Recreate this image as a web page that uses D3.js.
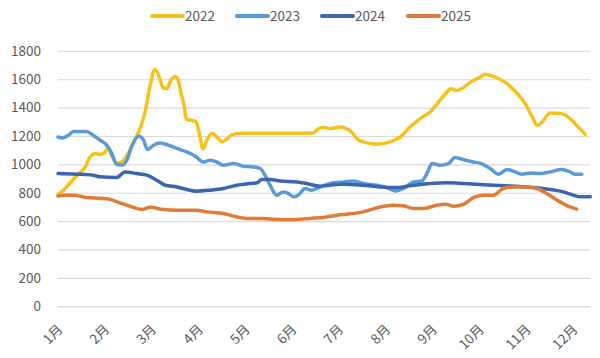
<!DOCTYPE html>
<html>
<head>
<meta charset="utf-8">
<script src="https://cdn.jsdelivr.net/npm/d3@7/dist/d3.min.js"></script>
<style>
  html, body { margin: 0; padding: 0; background: #fff; }
  svg { display: block; }
  text { font-family: "Noto Sans CJK SC", "Noto Sans", sans-serif; fill: #595959; }
</style>
</head>
<body>
<svg id="chart" width="600" height="358"></svg>
<script>
// ---- data (x = month position, 0 = 1月) ----
const months = ["1月","2月","3月","4月","5月","6月","7月","8月","9月","10月","11月","12月"];
const yTicks = [0, 200, 400, 600, 800, 1000, 1200, 1400, 1600, 1800];
const seriesNames = ["2022", "2023", "2024", "2025"];

const s2022 = [[0,790],[0.09,810],[0.26,870],[0.43,930],[0.58,980],[0.68,1050],[0.79,1075],[0.9,1070],[0.98,1080],[1.07,1110],[1.15,1060],[1.26,1010],[1.37,1020],[1.5,1080],[1.62,1160],[1.75,1250],[1.86,1370],[1.97,1560],[2.07,1670],[2.18,1600],[2.24,1540],[2.33,1535],[2.39,1580],[2.5,1620],[2.56,1600],[2.63,1500],[2.69,1420],[2.74,1320],[2.86,1310],[2.95,1300],[3.01,1230],[3.1,1110],[3.18,1170],[3.29,1220],[3.4,1190],[3.5,1160],[3.61,1180],[3.72,1210],[3.89,1220],[4.5,1220],[5.0,1220],[5.45,1222],[5.56,1250],[5.66,1262],[5.81,1252],[6.05,1264],[6.18,1250],[6.28,1225],[6.39,1180],[6.52,1158],[6.81,1142],[7.09,1158],[7.31,1193],[7.52,1264],[7.74,1323],[7.95,1370],[8.1,1428],[8.31,1510],[8.38,1534],[8.53,1520],[8.65,1540],[8.87,1592],[9.02,1615],[9.12,1635],[9.29,1620],[9.59,1569],[9.81,1499],[9.98,1428],[10.13,1334],[10.24,1275],[10.34,1299],[10.51,1362],[10.73,1358],[10.94,1323],[11.11,1264],[11.26,1212]];

const s2023 = [[0,1193],[0.11,1186],[0.22,1205],[0.33,1231],[0.61,1231],[0.75,1205],[0.9,1170],[1.04,1135],[1.15,1076],[1.25,1001],[1.36,994],[1.47,1029],[1.57,1123],[1.72,1198],[1.82,1175],[1.91,1105],[2.04,1135],[2.18,1151],[2.36,1135],[2.54,1112],[2.75,1088],[2.96,1052],[3.1,1017],[3.25,1029],[3.39,1017],[3.53,994],[3.75,1006],[3.96,987],[4.17,982],[4.32,971],[4.42,924],[4.53,853],[4.67,783],[4.81,806],[4.92,795],[5.03,771],[5.13,783],[5.28,830],[5.42,818],[5.6,841],[5.81,865],[6.1,876],[6.31,883],[6.52,865],[6.81,853],[7.02,837],[7.2,813],[7.38,830],[7.59,876],[7.77,883],[7.88,935],[7.99,1006],[8.16,994],[8.34,1006],[8.48,1048],[8.66,1034],[8.87,1017],[9.02,1008],[9.23,971],[9.41,931],[9.59,964],[9.76,947],[9.91,931],[10.09,940],[10.3,935],[10.51,947],[10.76,964],[10.94,947],[11.05,931],[11.19,931]];

const s2024 = [[0,935],[0.4,931],[0.75,924],[0.9,912],[1.25,907],[1.43,947],[1.68,935],[1.9,924],[2.11,888],[2.29,853],[2.54,841],[2.75,823],[2.96,811],[3.25,818],[3.53,830],[3.82,853],[4.1,865],[4.25,870],[4.35,893],[4.53,893],[4.74,883],[5.1,876],[5.31,865],[5.6,846],[5.81,853],[6.03,860],[6.52,853],[6.88,841],[7.24,837],[7.59,853],[7.95,865],[8.31,870],[8.66,865],[9.02,858],[9.3,853],[9.66,848],[10.01,841],[10.37,830],[10.73,811],[11.01,783],[11.15,771],[11.37,771]];

const s2025 = [[0,776],[0.15,783],[0.33,783],[0.61,767],[0.9,760],[1.11,753],[1.32,729],[1.54,705],[1.79,682],[1.97,697],[2.25,682],[2.54,677],[2.96,677],[3.18,665],[3.53,654],[3.75,635],[4.03,619],[4.39,619],[4.67,612],[5.1,612],[5.38,619],[5.67,626],[5.96,642],[6.17,649],[6.52,665],[6.88,700],[7.16,712],[7.38,708],[7.59,689],[7.81,689],[8.09,712],[8.27,719],[8.45,705],[8.66,718],[8.87,765],[9.09,783],[9.3,783],[9.51,830],[9.73,841],[10.01,841],[10.23,830],[10.44,795],[10.66,748],[10.88,708],[11.08,684]];

const seriesData = [s2022, s2023, s2024, s2025];
const colors = ["#F5C11C", "#5B9BD5", "#3B65AF", "#E07B39"];

// ---- layout ----
const svg = d3.select("#chart");
const plotLeft = 58, plotRight = 590, plotTop = 50.9, plotBottom = 306.2;

const x = d3.scaleLinear().domain([0, 11]).range([plotLeft, 573]);
const y = d3.scaleLinear().domain([0, 1800]).range([plotBottom, plotTop]);

// gridlines + y labels
const yAxis = d3.axisLeft(y).tickValues(yTicks).tickSize(-(plotRight - plotLeft)).tickPadding(17).tickFormat(d3.format("d"));
const gy = svg.append("g").attr("transform", `translate(${plotLeft},0)`).call(yAxis);
gy.select(".domain").remove();
gy.selectAll(".tick line").attr("stroke", "#d9d9d9").attr("stroke-width", 1.2);
gy.selectAll(".tick text").attr("font-size", 13.5).attr("fill", "#595959")
  .style("font-family", '"Noto Sans CJK SC", sans-serif');

// x labels
const xAxis = d3.axisBottom(x).tickValues(d3.range(months.length)).tickSize(0).tickFormat(i => months[i]);
const gx = svg.append("g").attr("transform", `translate(0,${plotBottom})`).call(xAxis);
gx.select(".domain").remove();
gx.selectAll(".tick text")
  .attr("font-size", 13.5)
  .attr("fill", "#595959")
  .style("font-family", '"Noto Sans CJK SC", sans-serif')
  .attr("text-anchor", "end")
  .attr("y", 0).attr("dy", 0)
  .attr("transform", "translate(5,24) rotate(-45)");

// lines
const line = d3.line().x(d => x(d[0])).y(d => y(d[1])).curve(d3.curveMonotoneX);
svg.append("g").selectAll("path").data(seriesData).join("path")
  .attr("d", line)
  .attr("fill", "none")
  .attr("stroke", (d, i) => colors[i])
  .attr("stroke-width", 3.5)
  .attr("stroke-linejoin", "round")
  .attr("stroke-linecap", "round");

// legend
const legendX = [152, 237, 322, 408];
const lg = svg.append("g").selectAll("g").data(seriesNames).join("g")
  .attr("transform", (d, i) => `translate(${legendX[i]},16)`);
lg.append("line").attr("x1", 0).attr("x2", 31).attr("y1", 0).attr("y2", 0)
  .attr("stroke", (d, i) => colors[i]).attr("stroke-width", 4).attr("stroke-linecap", "round");
lg.append("text").attr("x", 33).attr("y", 0).attr("dy", "0.35em")
  .attr("font-size", 13.5).text(d => d);
</script>
</body>
</html>
